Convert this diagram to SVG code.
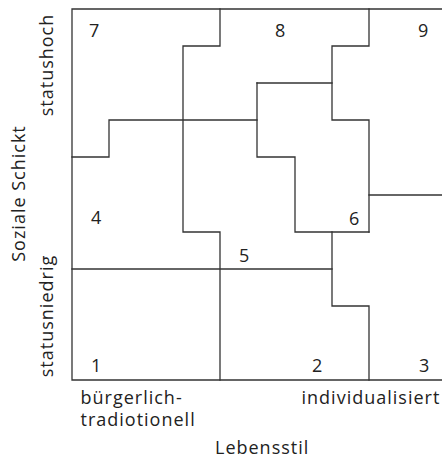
<svg xmlns="http://www.w3.org/2000/svg" width="442" height="459" viewBox="0 0 442 459">
  <style>
    .ln { fill: none; stroke: #333; stroke-width: 1.3; stroke-linecap: square; }
    .t { font-family: "Open Sans", "Noto Sans", "DejaVu Sans", sans-serif; font-size: 18px; fill: #222; letter-spacing: 1px; }
    .n { font-family: "Open Sans", "Noto Sans", "DejaVu Sans", sans-serif; font-size: 18px; fill: #222; }
  </style>
  <rect width="442" height="459" fill="#fff"/>
  <g id="connectors">
    <path class="ln" d="M72,9 H442 M72,9 V380 H442"/>
    <path class="ln" d="M72,157 H109 V120 H257"/>
    <path class="ln" d="M220,9 V46 H183 V232 H220 V380"/>
    <path class="ln" d="M257,83 H332"/>
    <path class="ln" d="M257,83 V157 H295 V232 H369"/>
    <path class="ln" d="M369,9 V46 H332 V120 H369 V232"/>
    <path class="ln" d="M369,195 H442"/>
    <path class="ln" d="M72,269 H332"/>
    <path class="ln" d="M332,232 V306 H369 V380"/>
  </g>
  <g id="region-7"><text class="n" x="89" y="37">7</text></g>
  <g id="region-8"><text class="n" x="275" y="37">8</text></g>
  <g id="region-9"><text class="n" x="418" y="37">9</text></g>
  <g id="region-4"><text class="n" x="91" y="224">4</text></g>
  <g id="region-6"><text class="n" x="349" y="225">6</text></g>
  <g id="region-5"><text class="n" x="239" y="262">5</text></g>
  <g id="region-1"><text class="n" x="91" y="372">1</text></g>
  <g id="region-2"><text class="n" x="312" y="372">2</text></g>
  <g id="region-3"><text class="n" x="419" y="372">3</text></g>
  <g id="axis-x">
    <text class="t" x="80.5" y="403.5">bürgerlich-</text>
    <text class="t" x="80.5" y="426">tradiotionell</text>
    <text class="t" x="301.5" y="403.5">individualisiert</text>
    <text class="t" x="215" y="454">Lebensstil</text>
  </g>
  <g id="axis-y">
    <text class="t" text-anchor="middle" transform="translate(53,65) rotate(-90)">statushoch</text>
    <text class="t" text-anchor="middle" transform="translate(53,316) rotate(-90)">statusniedrig</text>
    <text class="t" text-anchor="middle" transform="translate(25,193.5) rotate(-90)">Soziale Schickt</text>
  </g>
</svg>
